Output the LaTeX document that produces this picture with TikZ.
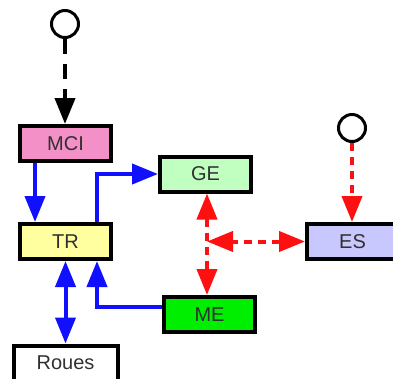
\documentclass[tikz,border=0pt]{standalone}
\usepackage{fontspec}
\setmainfont{Liberation Sans}
\usetikzlibrary{arrows.meta}
\definecolor{cpink}{HTML}{F490C8}
\definecolor{cgreenl}{HTML}{C0FFC0}
\definecolor{cviolet}{HTML}{C8C8FF}
\definecolor{cyellow}{HTML}{FFFFA0}
\definecolor{cgreen}{HTML}{00EE00}
\definecolor{cblue}{HTML}{1010FF}
\definecolor{cred}{HTML}{FF1010}
\definecolor{ctext}{HTML}{303030}
\begin{document}
\begin{tikzpicture}[x=1pt,y=-1pt,
  box/.style={draw=black,line width=4pt,minimum width=91pt,minimum height=35pt,inner sep=0pt,
    font=\fontsize{20}{20}\selectfont,text=ctext},
  src/.style={draw=black,line width=3pt,circle,minimum size=27pt,inner sep=0pt,fill=white},
  tip/.style={-{Triangle[length=26pt,width=20pt]}},
  dtip/.style={{Triangle[length=26pt,width=20pt]}-{Triangle[length=26pt,width=20pt]}},
  bl/.style={draw=cblue,line width=4pt},
  rd/.style={draw=cred,line width=4pt,dash pattern=on 8pt off 6pt},
  bk/.style={draw=black,line width=4pt,dash pattern=on 15pt off 10pt}]
\useasboundingbox (0,0) rectangle (393,378);
\fill[white] (0,0) rectangle (393,378);
\node[box,fill=cpink] (MCI) at (65.5,143.5) {MCI};
\node[box,fill=cgreenl] (GE) at (205.5,174) {GE};
\node[box,fill=cviolet] (ES) at (352.5,241.5) {ES};
\node[box,fill=cyellow] (TR) at (65.5,241.5) {TR};
\node[box,fill=cgreen] (ME) at (209.5,314.5) {ME};
\node[box,fill=white,minimum width=104pt] (R) at (65.5,363) {Roues};
\node[src] (S1) at (65,24) {};
\node[src] (S2) at (352,128) {};
\coordinate (c35) at (35,0);
\coordinate (c97) at (97,0);
\coordinate (c207) at (207,0);
\coordinate (meo) at (162,307);
% blue
\draw[bl,tip] (MCI.south -| c35) -- (TR.north -| c35);
\draw[bl,tip] (TR.north -| c97) |- (GE.west);
\draw[bl,tip] (meo) -| (TR.south -| c97);
\draw[bl,dtip] (TR.south) -- (R.north);
% red
\draw[rd,dtip] (GE.south -| c207) -- (ME.north -| c207);
\draw[rd,dtip] (ES.west) -- (ES.west -| c207);
\draw[rd,tip] (S2.south) -- (ES.north -| S2);
% black
\draw[bk,tip] (S1.south) -- (MCI.north -| S1);
\end{tikzpicture}
\end{document}
